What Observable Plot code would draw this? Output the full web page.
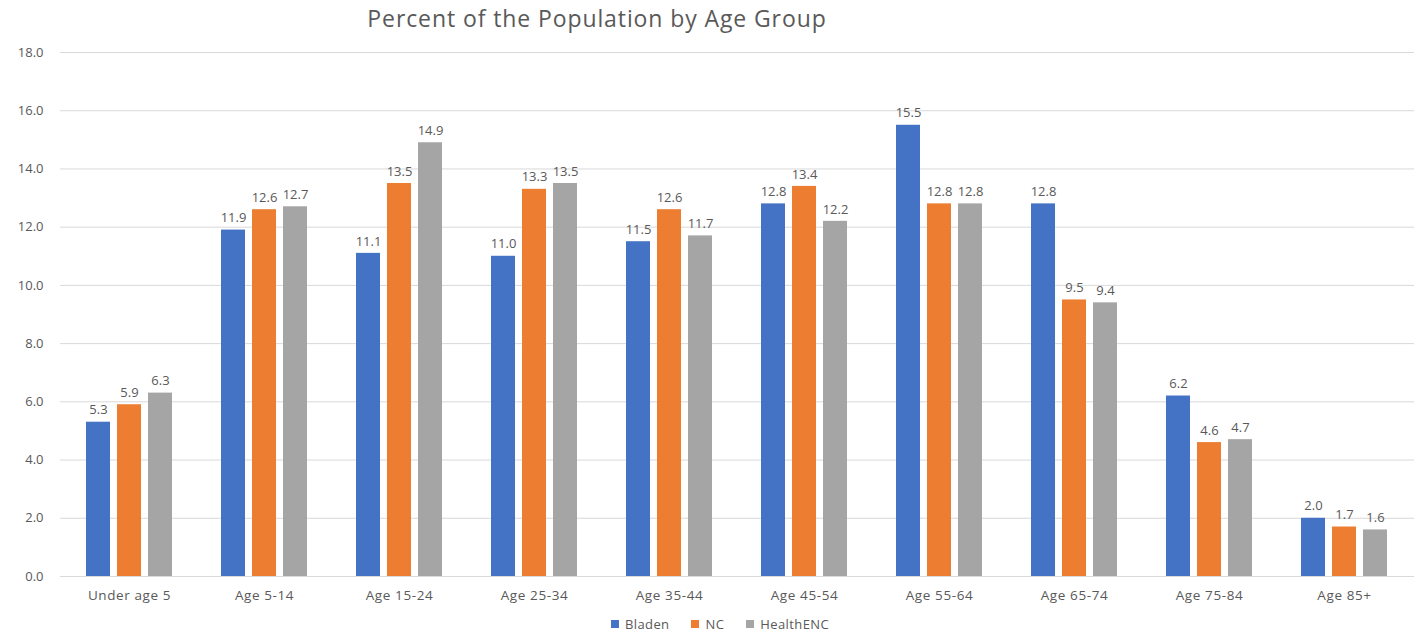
<!DOCTYPE html>
<html>
<head>
<meta charset="utf-8">
<script src="https://cdn.jsdelivr.net/npm/d3@7"></script>
<script src="https://cdn.jsdelivr.net/npm/@observablehq/plot@0.6"></script>
<style>
  body { margin: 0; background: #fff; font-family: "Open Sans", sans-serif; }
  #wrap { width: 1424px; height: 635px; position: relative; overflow: hidden; }
  #title { height: 40px; position: relative; color: #595959; font-size: 23px; letter-spacing: 0.9px; }
  #title span { position: absolute; left: 597px; top: 2px; transform: translateX(-50%); white-space: nowrap; }
  #legend { position: absolute; left: 0; width: 1440px; top: 615px; display: flex; justify-content: center; gap: 22px; font-size: 13px; letter-spacing: 0.4px; color: #595959; }
  #legend .item { display: flex; align-items: center; gap: 6px; }
  #legend .sw { width: 8px; height: 8px; display: inline-block; }
  #chart svg g[aria-label="x-axis tick label"] text { letter-spacing: 0.6px; }
</style>
</head>
<body>
<div id="wrap">
  <div id="title"><span>Percent of the Population by Age Group</span></div>
  <div id="chart"></div>
  <div id="legend"></div>
</div>
<script>
// Age groups along the x axis
const groups = ["Under age 5", "Age 5-14", "Age 15-24", "Age 25-34", "Age 35-44",
                "Age 45-54", "Age 55-64", "Age 65-74", "Age 75-84", "Age 85+"];
// Geographies compared in each group
const series = ["Bladen", "NC", "HealthENC"];
const colors = ["#4472C4", "#ED7D31", "#A5A5A5"];
// Percent of population, one array per geography
const bladen    = [5.3, 11.9, 11.1, 11.0, 11.5, 12.8, 15.5, 12.8, 6.2, 2.0];
const nc        = [5.9, 12.6, 13.5, 13.3, 12.6, 13.4, 12.8, 9.5, 4.6, 1.7];
const healthENC = [6.3, 12.7, 14.9, 13.5, 11.7, 12.2, 12.8, 9.4, 4.7, 1.6];
const yTicks = [0, 2, 4, 6, 8, 10, 12, 14, 16, 18];

const values = [bladen, nc, healthENC];
const rows = series.flatMap((s, si) =>
  groups.map((g, gi) => ({ group: g, series: s, value: values[si][gi] })));

// Horizontal offset of each series bar within its age group
const offsets = [-31, 0, 31];

const barMarks = series.flatMap((s, si) => {
  const data = rows.filter(d => d.series === s);
  return [
    Plot.barY(data, { x: "group", y: "value", fill: colors[si], dx: offsets[si] }),
    Plot.text(data, {
      x: "group", y: "value", text: d => d.value.toFixed(1), dx: offsets[si], dy: -12,
      fill: "#595959", fontSize: 13
    })
  ];
});

const chart = Plot.plot({
  width: 1424,
  height: 570,
  marginTop: 12,
  marginBottom: 34,
  marginLeft: 60,
  marginRight: 10,
  style: { fontFamily: "Open Sans, sans-serif", fontSize: "13px", color: "#595959" },
  x: { domain: groups, type: "band", paddingInner: 0.82, paddingOuter: 0.41, label: null },
  y: { domain: [0, 18], ticks: yTicks, label: null },
  marks: [
    Plot.ruleY(yTicks, { stroke: "#d9d9d9", strokeWidth: 1 }),
    Plot.axisY({ ticks: yTicks, tickSize: 0, tickPadding: 17, tickFormat: d => d.toFixed(1), label: null }),
    Plot.axisX({ tickSize: 0, tickPadding: 14, fontSize: 13.5, label: null }),
    ...barMarks
  ]
});
document.getElementById("chart").appendChild(chart);

// Legend swatches
const legend = document.getElementById("legend");
series.forEach((s, i) => {
  const item = document.createElement("span");
  item.className = "item";
  item.innerHTML = `<span class="sw" style="background:${colors[i]}"></span>${s}`;
  legend.appendChild(item);
});
</script>
</body>
</html>
